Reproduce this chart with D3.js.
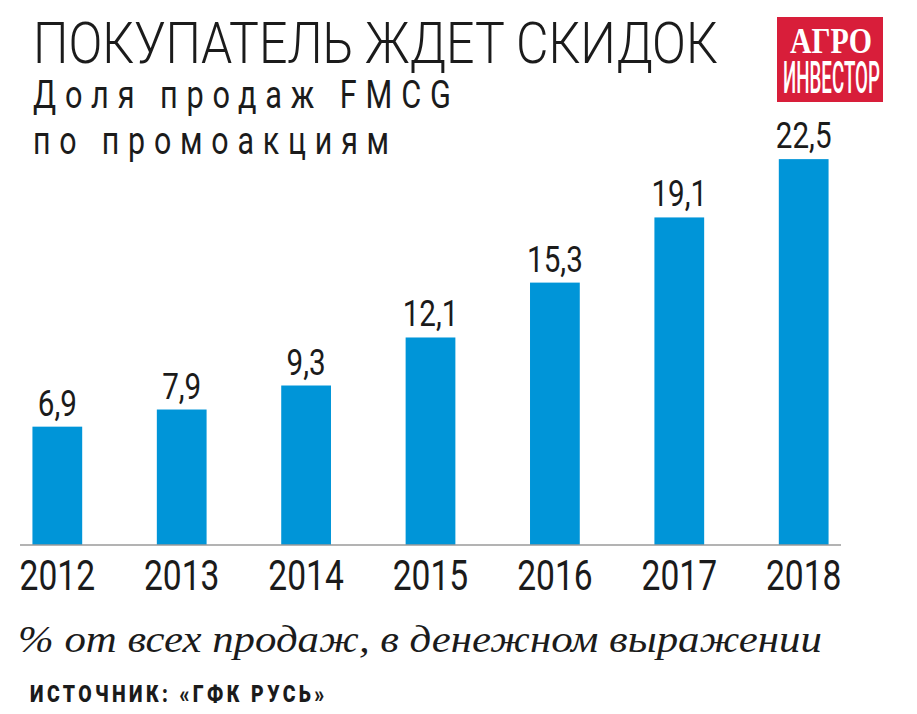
<!DOCTYPE html>
<html>
<head>
<meta charset="utf-8">
<script src="https://cdn.jsdelivr.net/npm/d3@7"></script>
<style>
  body { margin: 0; background: #fff; }
  svg { display: block; }
</style>
</head>
<body>
<div id="chart"></div>
<script>
// data
var years = ["2012", "2013", "2014", "2015", "2016", "2017", "2018"];
var shares = [6.9, 7.9, 9.3, 12.1, 15.3, 19.1, 22.5];
var title = "ПОКУПАТЕЛЬ ЖДЕТ СКИДОК";
var subtitle = ["Доля продаж FMCG", "по промоакциям"];
var caption = "% от всех продаж, в денежном выражении";
var source = "ИСТОЧНИК: «ГФК РУСЬ»";

var width = 917, height = 714;
var sans = "Roboto, 'DejaVu Sans', sans-serif";
var serif = "'Liberation Serif', 'DejaVu Serif', serif";
var ink = "#1b1b1b";
var squeeze = 0.8; // the original face is a condensed one
var numFormat = function(v) { return d3.format(".1f")(v).replace(".", ","); };

var svg = d3.select("#chart").append("svg")
  .attr("width", width)
  .attr("height", height);

// stretch/squeeze a text horizontally so that it spans w pixels from x
function fit(sel, x, y, w) {
  sel.attr("x", 0).attr("y", 0);
  var len = sel.node().getComputedTextLength();
  sel.attr("transform", "translate(" + x + "," + y + ") scale(" + (w / len) + ",1)");
  return sel;
}

//scales
var x = d3.scaleBand()
  .domain(years)
  .range([20, 841])
  .paddingInner(0.6)
  .paddingOuter(0.1);

var y = d3.scaleLinear()
  .domain([0, 25])
  .range([545, 545 - 25 * 17.15]);

//title block
svg.append("text")
  .style("font-family", sans)
  .style("font-weight", 300)
  .style("font-size", "58px")
  .style("fill", ink)
  .text(title)
  .call(fit, 33, 63, 685);

var subLen = [427, 365];
svg.selectAll(".subtitle")
  .data(subtitle)
  .enter()
  .append("text")
  .attr("class", "subtitle")
  .style("font-family", sans)
  .style("font-size", "38px")
  .style("letter-spacing", "11px")
  .style("fill", ink)
  .text(function(d) { return d; })
  .each(function(d, i) {
    d3.select(this).call(fit, 33, 108 + i * 46, subLen[i]);
  });

//logo
var logo = svg.append("g").attr("class", "logo");
logo.append("rect")
  .attr("x", 777).attr("y", 17)
  .attr("width", 106).attr("height", 85)
  .attr("fill", "#d81e3a");
logo.append("text")
  .style("font-family", serif)
  .style("font-weight", "bold")
  .style("font-size", "36px")
  .style("fill", "#fff")
  .text("АГРО")
  .call(fit, 790, 53, 82);
logo.append("text")
  .style("font-family", sans)
  .style("font-weight", 500)
  .style("font-size", "45px")
  .style("fill", "#fff")
  .text("ИНВЕСТОР")
  .call(fit, 783, 93, 97);

//bars
var bars = svg.append("g").attr("class", "bars")
  .selectAll("g")
  .data(shares)
  .enter()
  .append("g");

bars.append("rect")
  .attr("x", function(d, i) { return x(years[i]); })
  .attr("y", function(d) { return y(d); })
  .attr("width", x.bandwidth())
  .attr("height", function(d) { return y(0) - y(d); })
  .attr("fill", "#0095d8");

bars.append("text")
  .attr("transform", function(d, i) {
    return "translate(" + (x(years[i]) + x.bandwidth() / 2) + "," + (y(d) - 11) + ") scale(" + squeeze + ",1)";
  })
  .attr("text-anchor", "middle")
  .style("font-family", sans)
  .style("font-size", "37px")
  .style("fill", ink)
  .text(function(d) { return numFormat(d); });

//x axis
var xAxis = d3.axisBottom(x).tickSize(0).tickPadding(0);
var gx = svg.append("g")
  .attr("class", "x axis")
  .attr("transform", "translate(0," + y(0) + ")")
  .call(xAxis);

gx.select(".domain")
  .attr("d", "M20,0H841")
  .attr("stroke", "#9a9a9a")
  .attr("stroke-width", 1.5);

gx.selectAll(".tick text")
  .attr("y", 0)
  .attr("dy", 0)
  .attr("transform", "translate(0,45) scale(" + squeeze + ",1)")
  .style("font-family", sans)
  .style("font-size", "42px")
  .style("fill", ink);

//caption and source
svg.append("text")
  .style("font-family", serif)
  .style("font-style", "italic")
  .style("font-size", "38px")
  .style("fill", ink)
  .text(caption)
  .call(fit, 18, 652, 804);

svg.append("text")
  .style("font-family", sans)
  .style("font-weight", 900)
  .style("font-size", "23px")
  .style("letter-spacing", "4px")
  .style("fill", ink)
  .text(source)
  .call(fit, 30, 702, 298);
</script>
</body>
</html>
